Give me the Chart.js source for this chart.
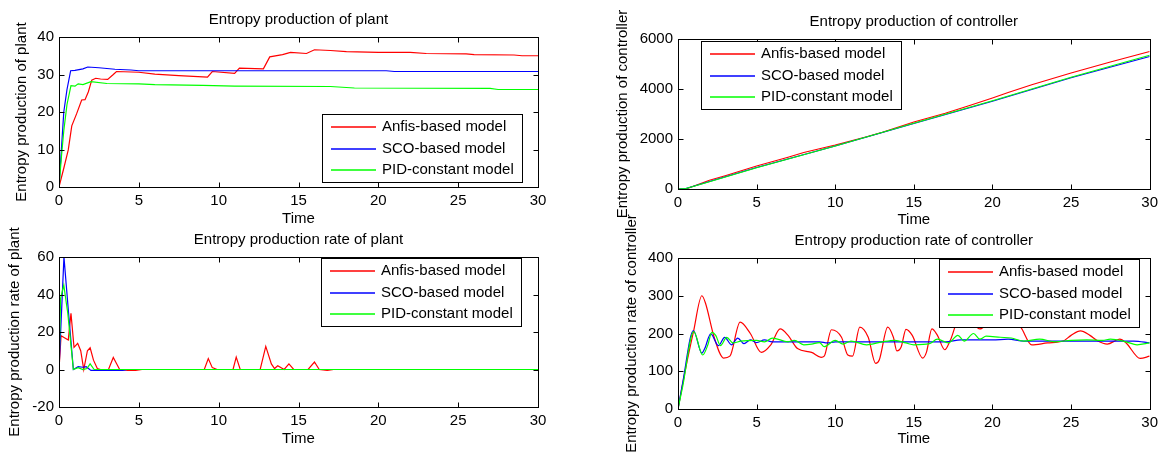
<!DOCTYPE html>
<html>
<head>
<meta charset="utf-8">
<script src="https://cdn.jsdelivr.net/npm/chart.js@4.4.1/dist/chart.umd.min.js"></script>
<style>
  html, body { margin: 0; padding: 0; background: #fff; }
  #wrap { position: relative; width: 1163px; height: 452px; }
  #wrap canvas { position: absolute; left: 0; top: 0; }
</style>
</head>
<body>
<div id="wrap">
  <canvas id="plantProd" width="1163" height="452"></canvas>
  <canvas id="ctrlProd" width="1163" height="452"></canvas>
  <canvas id="plantRate" width="1163" height="452"></canvas>
  <canvas id="ctrlRate" width="1163" height="452"></canvas>
</div>
<script>
// series labels
const seriesLabels = ['Anfis-based model', 'SCO-based model', 'PID-constant model'];

// entropy production of plant
const plantProdTimeRed = [0, 0.3, 0.58, 0.8, 1.1, 1.42, 1.63, 1.84, 2.05, 2.3, 2.6, 3.05, 3.4, 3.6, 5, 6, 7.5, 9.3, 9.6, 11, 11.3, 12.8, 13.2, 14, 14.5, 15.5, 16, 17, 18, 20, 22, 23, 25.5, 26, 28.5, 29, 30];
const plantProdRed = [0, 5, 9.9, 16.3, 19.5, 23.2, 23.3, 25.4, 28.5, 29, 28.8, 28.7, 30, 30.8, 30.6, 30.1, 29.7, 29.3, 30.8, 30.3, 31.7, 31.5, 34.7, 35.3, 35.9, 35.6, 36.6, 36.4, 36.1, 35.9, 35.9, 35.6, 35.5, 35.3, 35.2, 35, 35];
const plantProdTimeBlue = [0, 0.15, 0.3, 0.5, 0.73, 1, 1.5, 1.8, 2.5, 3.5, 4.5, 5, 20.5, 21, 30];
const plantProdBlue = [0, 10, 20, 26, 31, 31.1, 31.5, 32, 31.8, 31.4, 31.2, 31, 31, 30.8, 30.8];
const plantProdTimeGreen = [0, 0.15, 0.3, 0.5, 0.75, 1, 1.2, 1.5, 2, 3, 5, 6, 9, 11, 17, 18.5, 27, 27.5, 30];
const plantProdGreen = [0, 8, 15, 22, 27, 26.9, 27.5, 27.3, 28.1, 27.6, 27.5, 27.3, 27.1, 26.9, 26.8, 26.4, 26.3, 26, 26];

// entropy production of controller
const ctrlProdTimeRed = [0, 0.5, 2, 3, 5, 7, 8, 10, 12, 13, 15, 17, 18.5, 20, 21, 22.5, 25, 27.5, 30];
const ctrlProdRed = [0, 0, 350, 530, 920, 1270, 1460, 1760, 2090, 2270, 2680, 3030, 3330, 3640, 3860, 4170, 4640, 5080, 5500];
const ctrlProdTime = [0, 0.5, 2, 5, 10, 15, 20, 25, 30];
const ctrlProdBlue = [0, 20, 300, 860, 1720, 2620, 3510, 4450, 5300];
const ctrlProdGreen = [0, 20, 290, 850, 1720, 2630, 3530, 4470, 5350];

// entropy production rate of plant
const plantRateTimeRed = [0, 0.13, 0.58, 0.75, 0.94, 1.17, 1.36, 1.55, 1.78, 1.95, 2.16, 2.4, 2.6, 3.1, 3.4, 3.8, 4.3, 4.8, 5.2, 9.1, 9.35, 9.6, 9.9, 10.9, 11.1, 11.35, 12.6, 12.95, 13.3, 13.5, 13.7, 14.1, 14.4, 14.7, 15.6, 16, 16.3, 16.8, 17.2, 30];
const plantRateRed = [0, 18, 15.7, 30, 11.8, 14, 10, 0, 10, 11.6, 5, 0.5, 0, 0, 6.4, 0, -0.5, -0.5, 0, 0, 5.8, 1, 0, 0, 6.6, 0, 0, 12.3, 3, 0.5, 2, 0, 3, 0, 0, 4, 0, -0.5, 0, 0];
const plantRateTimeBlue = [0, 0.31, 0.6, 0.9, 1.2, 1.5, 1.7, 2, 4, 4.3, 30];
const plantRateBlue = [0, 60, 30, 0, 1.5, 1.2, 1.5, -0.5, -0.5, 0, 0];
const plantRateTimeGreen = [0, 0.1, 0.3, 0.55, 0.9, 1.2, 1.5, 1.75, 1.95, 2.2, 30];
const plantRateGreen = [0, 38, 45, 30, 0, 1, 0, 0.5, 3, 0, 0];

// entropy production rate of controller
const ctrlRateTimeRed = [0, 0.5, 0.98, 1.52, 1.75, 2.3, 2.9, 3.3, 3.95, 4.6, 5.3, 5.9, 6.5, 7, 7.6, 8.5, 9.1, 9.3, 9.76, 10.4, 10.8, 11.1, 11.56, 12.1, 12.57, 12.8, 13.34, 13.7, 13.92, 14.2, 14.5, 14.9, 15.56, 15.8, 16.15, 16.5, 16.97, 17.3, 18, 18.6, 19.2, 19.8, 20.5, 21.2, 21.8, 22.5, 23.5, 24.5, 25, 25.6, 26.2, 26.7, 27.3, 28.1, 28.5, 29.4, 30];
const ctrlRateRed = [0, 110, 204, 300, 280, 190, 135, 140, 230, 200, 150, 170, 212, 195, 160, 150, 137, 140, 210, 190, 143, 140, 217, 190, 121, 130, 217, 190, 154, 165, 211, 195, 135, 150, 212, 195, 157, 180, 250, 235, 212, 230, 250, 240, 217, 170, 175, 180, 195, 207, 195, 180, 172, 185, 175, 134, 140];
const ctrlRateTimeBlue = [0, 0.3, 0.98, 1.52, 1.7, 2.08, 2.57, 2.97, 3.4, 3.8, 4.2, 4.6, 5, 5.5, 6, 9, 9.5, 10, 17, 18, 20, 21, 22, 29, 30];
const ctrlRateBlue = [0, 70, 208, 148, 160, 199, 168, 190, 170, 188, 173, 183, 176, 183, 178, 178, 175, 178, 178, 183, 183, 185, 180, 180, 175];
const ctrlRateTimeGreen = [0, 0.3, 1.0, 1.57, 1.9, 2.15, 2.4, 2.7, 3.1, 3.5, 4, 5, 5.5, 6, 7, 7.4, 8, 8.5, 9, 9.3, 10, 10.5, 11, 12, 13, 13.8, 14.5, 15, 16, 16.5, 17.2, 17.8, 18.2, 18.8, 19.2, 19.6, 20.5, 21.2, 22, 23, 24, 25, 26, 27, 27.5, 28.5, 29.2, 30];
const ctrlRateGreen = [0, 60, 205, 143, 170, 203, 195, 168, 190, 175, 180, 182, 178, 188, 178, 182, 170, 172, 176, 165, 182, 172, 180, 170, 178, 182, 175, 170, 173, 185, 175, 195, 180, 200, 185, 193, 190, 188, 180, 185, 178, 182, 183, 182, 185, 178, 170, 175];

const colors = ['#ff0000', '#0000ff', '#00ff00'];
const FONT = { family: '"Liberation Sans", Arial, sans-serif', size: 15 };
const LH = FONT.size * 1.2;
const W = 1163, H = 452;

Chart.defaults.font.family = FONT.family;
Chart.defaults.font.size = FONT.size;
Chart.defaults.color = '#000';

const toPoints = (xs, ys) => xs.map((x, i) => ({ x: x, y: ys[i] }));

// matlab-like box, inward ticks and boxed legend
const matlabFrame = {
    id: 'matlabFrame',
    afterDatasetsDraw(chart, args, opts) {
        const { ctx, chartArea: a, scales } = chart;
        const l = Math.round(a.left) + 0.5, r = Math.round(a.right) + 0.5;
        const t = Math.round(a.top) + 0.5, b = Math.round(a.bottom) + 0.5;
        ctx.save();
        ctx.strokeStyle = '#000';
        ctx.lineWidth = 1;
        ctx.beginPath();
        scales.x.ticks.forEach(tk => {
            const px = Math.round(scales.x.getPixelForValue(tk.value)) + 0.5;
            ctx.moveTo(px, b); ctx.lineTo(px, b - 5);
            ctx.moveTo(px, t); ctx.lineTo(px, t + 5);
        });
        scales.y.ticks.forEach(tk => {
            const py = Math.round(scales.y.getPixelForValue(tk.value)) + 0.5;
            ctx.moveTo(l, py); ctx.lineTo(l + 5, py);
            ctx.moveTo(r, py); ctx.lineTo(r - 5, py);
        });
        ctx.stroke();
        ctx.strokeRect(l, t, r - l, b - t);

        // legend
        const lx = opts.left, ly = opts.top, lw = 200, lh = 68;
        ctx.fillStyle = '#fff';
        ctx.fillRect(lx, ly, lw, lh);
        ctx.strokeStyle = '#000';
        ctx.strokeRect(lx + 0.5, ly + 0.5, lw, lh);
        ctx.font = FONT.size + 'px ' + FONT.family;
        ctx.textBaseline = 'middle';
        ctx.textAlign = 'left';
        chart.data.datasets.forEach((ds, i) => {
            const y = Math.round(ly + 13 + i * 21.5);
            ctx.strokeStyle = ds.borderColor;
            ctx.lineWidth = 1.5;
            ctx.beginPath();
            ctx.moveTo(lx + 9, y);
            ctx.lineTo(lx + 54, y);
            ctx.stroke();
            ctx.fillStyle = '#000';
            ctx.fillText(ds.label, lx + 60, y);
        });
        ctx.restore();
    }
};

function makeChart(id, cfg) {
    const datasets = cfg.series.map((s, i) => ({
        label: seriesLabels[i],
        data: toPoints(s[0], s[1]),
        borderColor: colors[i],
        backgroundColor: colors[i],
        borderWidth: 1.2,
        pointRadius: 0,
        tension: 0,
        cubicInterpolationMode: cfg.smooth ? 'monotone' : 'default',
        order: 2 - i
    }));
    return new Chart(document.getElementById(id), {
        type: 'line',
        data: { datasets: datasets },
        plugins: [matlabFrame],
        options: {
            responsive: false,
            animation: false,
            devicePixelRatio: 1,
            layout: {
                padding: {
                    left: cfg.yTitleX - LH / 2,
                    right: W - cfg.R,
                    top: cfg.titleY - LH / 2,
                    bottom: H - (cfg.timeY + LH / 2)
                }
            },
            plugins: {
                legend: { display: false },
                tooltip: { enabled: false },
                title: {
                    display: true,
                    text: cfg.title,
                    color: '#000',
                    fullSize: false,
                    font: { size: FONT.size, weight: 'normal' },
                    padding: { top: 0, bottom: cfg.T - cfg.titleY - LH / 2 }
                },
                matlabFrame: { left: cfg.legendLeft, top: cfg.legendTop }
            },
            scales: {
                x: {
                    type: 'linear',
                    min: 0,
                    max: 30,
                    ticks: { stepSize: 5, color: '#000', padding: 5, maxRotation: 0, autoSkip: false },
                    grid: { display: false, drawTicks: false },
                    border: { display: false },
                    title: { display: true, text: 'Time', color: '#000', padding: 0 },
                    afterFit: s => { s.height = cfg.timeY + LH / 2 - cfg.B; }
                },
                y: {
                    type: 'linear',
                    min: cfg.yMin,
                    max: cfg.yMax,
                    ticks: { stepSize: cfg.yStep, color: '#000', padding: 5, callback: v => String(v) },
                    grid: { display: false, drawTicks: false },
                    border: { display: false },
                    title: { display: true, text: cfg.yTitle, color: '#000', padding: 0 },
                    afterFit: s => { s.width = cfg.L - (cfg.yTitleX - LH / 2); }
                }
            }
        }
    });
}

makeChart('plantProd', {
    title: 'Entropy production of plant', yTitle: 'Entropy production of plant',
    L: 59, T: 37, R: 538, B: 187, titleY: 20, timeY: 219, yTitleX: 22,
    yMin: 0, yMax: 40, yStep: 10, legendLeft: 322, legendTop: 114,
    series: [[plantProdTimeRed, plantProdRed], [plantProdTimeBlue, plantProdBlue], [plantProdTimeGreen, plantProdGreen]]
});

makeChart('ctrlProd', {
    title: 'Entropy production of controller', yTitle: 'Entropy production of controller',
    L: 678, T: 39, R: 1154, B: 189, titleY: 22, timeY: 220, yTitleX: 623,
    yMin: 0, yMax: 6000, yStep: 2000, legendLeft: 701, legendTop: 41,
    series: [[ctrlProdTimeRed, ctrlProdRed], [ctrlProdTime, ctrlProdBlue], [ctrlProdTime, ctrlProdGreen]]
});

makeChart('plantRate', {
    title: 'Entropy production rate of plant', yTitle: 'Entropy production rate of plant',
    L: 59, T: 257, R: 538, B: 407, titleY: 240, timeY: 439, yTitleX: 15,
    yMin: -20, yMax: 60, yStep: 20, legendLeft: 321, legendTop: 258,
    series: [[plantRateTimeRed, plantRateRed], [plantRateTimeBlue, plantRateBlue], [plantRateTimeGreen, plantRateGreen]]
});

makeChart('ctrlRate', {
    title: 'Entropy production rate of controller', yTitle: 'Entropy production rate of controller',
    L: 678, T: 258, R: 1154, B: 409, titleY: 241, timeY: 439, yTitleX: 632,
    yMin: 0, yMax: 400, yStep: 100, legendLeft: 939, legendTop: 259, smooth: true,
    series: [[ctrlRateTimeRed, ctrlRateRed], [ctrlRateTimeBlue, ctrlRateBlue], [ctrlRateTimeGreen, ctrlRateGreen]]
});
</script>
</body>
</html>
